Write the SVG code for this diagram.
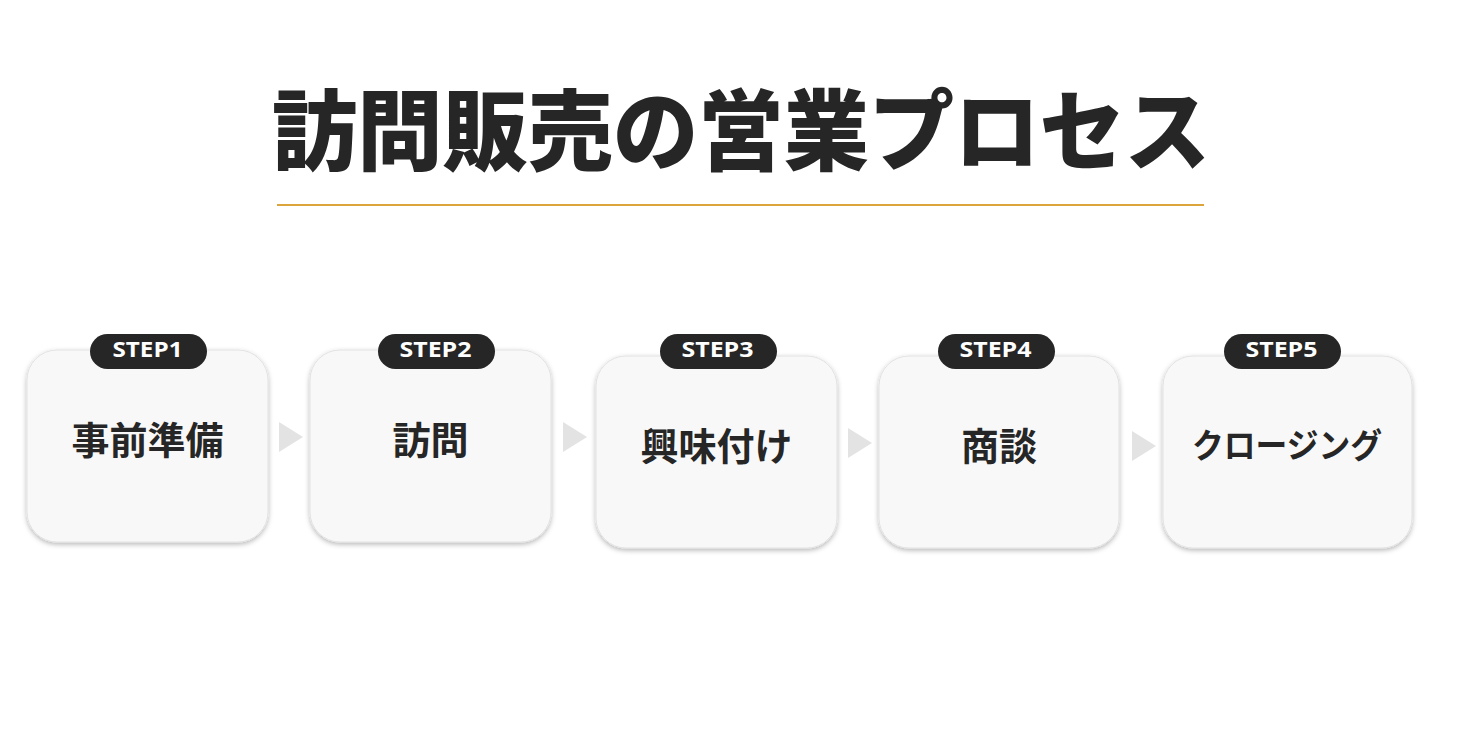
<svg xmlns="http://www.w3.org/2000/svg" width="1478" height="731" viewBox="0 0 1478 731">
  <defs>
    <filter id="shadow" x="-10%" y="-10%" width="120%" height="125%">
      <feDropShadow dx="0" dy="2" stdDeviation="2.5" flood-color="#000" flood-opacity="0.28"/>
    </filter>
  </defs>
  <style>
    .box { fill: #f8f8f8; stroke: #e2e2e2; stroke-width: 1; filter: url(#shadow); }
    .badge { fill: #262626; }
    .badge-text { fill: #ffffff; font-family: "Open Sans", "Noto Sans", sans-serif; font-weight: 700; font-size: 21px; text-anchor: middle; }
    .label { fill: #262626; font-family: "Noto Sans CJK JP", sans-serif; font-weight: 700; font-size: 38px; text-anchor: middle; }
    .title { fill: #262626; font-family: "Noto Sans CJK JP", sans-serif; font-weight: 900; font-size: 88px; text-anchor: middle; }
    .arrow { fill: #e3e3e3; }
  </style>
  <rect width="1478" height="731" fill="#ffffff"/>
  <g id="title">
    <text class="title" x="741" y="163" textLength="938" lengthAdjust="spacingAndGlyphs">訪問販売の営業プロセス</text>
    <line x1="277" y1="205" x2="1204" y2="205" stroke="#dba53c" stroke-width="2"/>
  </g>
  <g id="connectors">
    <polygon class="arrow" points="279,422 303,437 279,452"/>
    <polygon class="arrow" points="563,422 587,437 563,452"/>
    <polygon class="arrow" points="848,428 872,443 848,458"/>
    <polygon class="arrow" points="1132,431 1156,446 1132,461"/>
  </g>
  <g id="step1">
    <rect class="box" x="27" y="350" width="241" height="192" rx="30"/>
    <rect class="badge" x="90" y="334" width="117" height="35" rx="17.5"/>
    <text class="badge-text" x="147.5" y="357" textLength="70" lengthAdjust="spacingAndGlyphs">STEP1</text>
    <text class="label" x="147.5" y="454">事前準備</text>
  </g>
  <g id="step2">
    <rect class="box" x="310" y="350" width="241" height="192" rx="30"/>
    <rect class="badge" x="378" y="334" width="117" height="35" rx="17.5"/>
    <text class="badge-text" x="435.5" y="357" textLength="72" lengthAdjust="spacingAndGlyphs">STEP2</text>
    <text class="label" x="430.5" y="454">訪問</text>
  </g>
  <g id="step3">
    <rect class="box" x="596" y="356" width="241" height="192" rx="30"/>
    <rect class="badge" x="660" y="334" width="117" height="35" rx="17.5"/>
    <text class="badge-text" x="717.5" y="357" textLength="72" lengthAdjust="spacingAndGlyphs">STEP3</text>
    <text class="label" x="716.5" y="460">興味付け</text>
  </g>
  <g id="step4">
    <rect class="box" x="879" y="356" width="240" height="192" rx="30"/>
    <rect class="badge" x="938" y="334" width="117" height="35" rx="17.5"/>
    <text class="badge-text" x="995.5" y="357" textLength="72" lengthAdjust="spacingAndGlyphs">STEP4</text>
    <text class="label" x="999" y="460">商談</text>
  </g>
  <g id="step5">
    <rect class="box" x="1163" y="356" width="249" height="192" rx="30"/>
    <rect class="badge" x="1224" y="334" width="117" height="35" rx="17.5"/>
    <text class="badge-text" x="1281.5" y="357" textLength="72" lengthAdjust="spacingAndGlyphs">STEP5</text>
    <text class="label" x="1287" y="458" style="font-size:34px" textLength="190" lengthAdjust="spacingAndGlyphs">クロージング</text>
  </g>
</svg>
